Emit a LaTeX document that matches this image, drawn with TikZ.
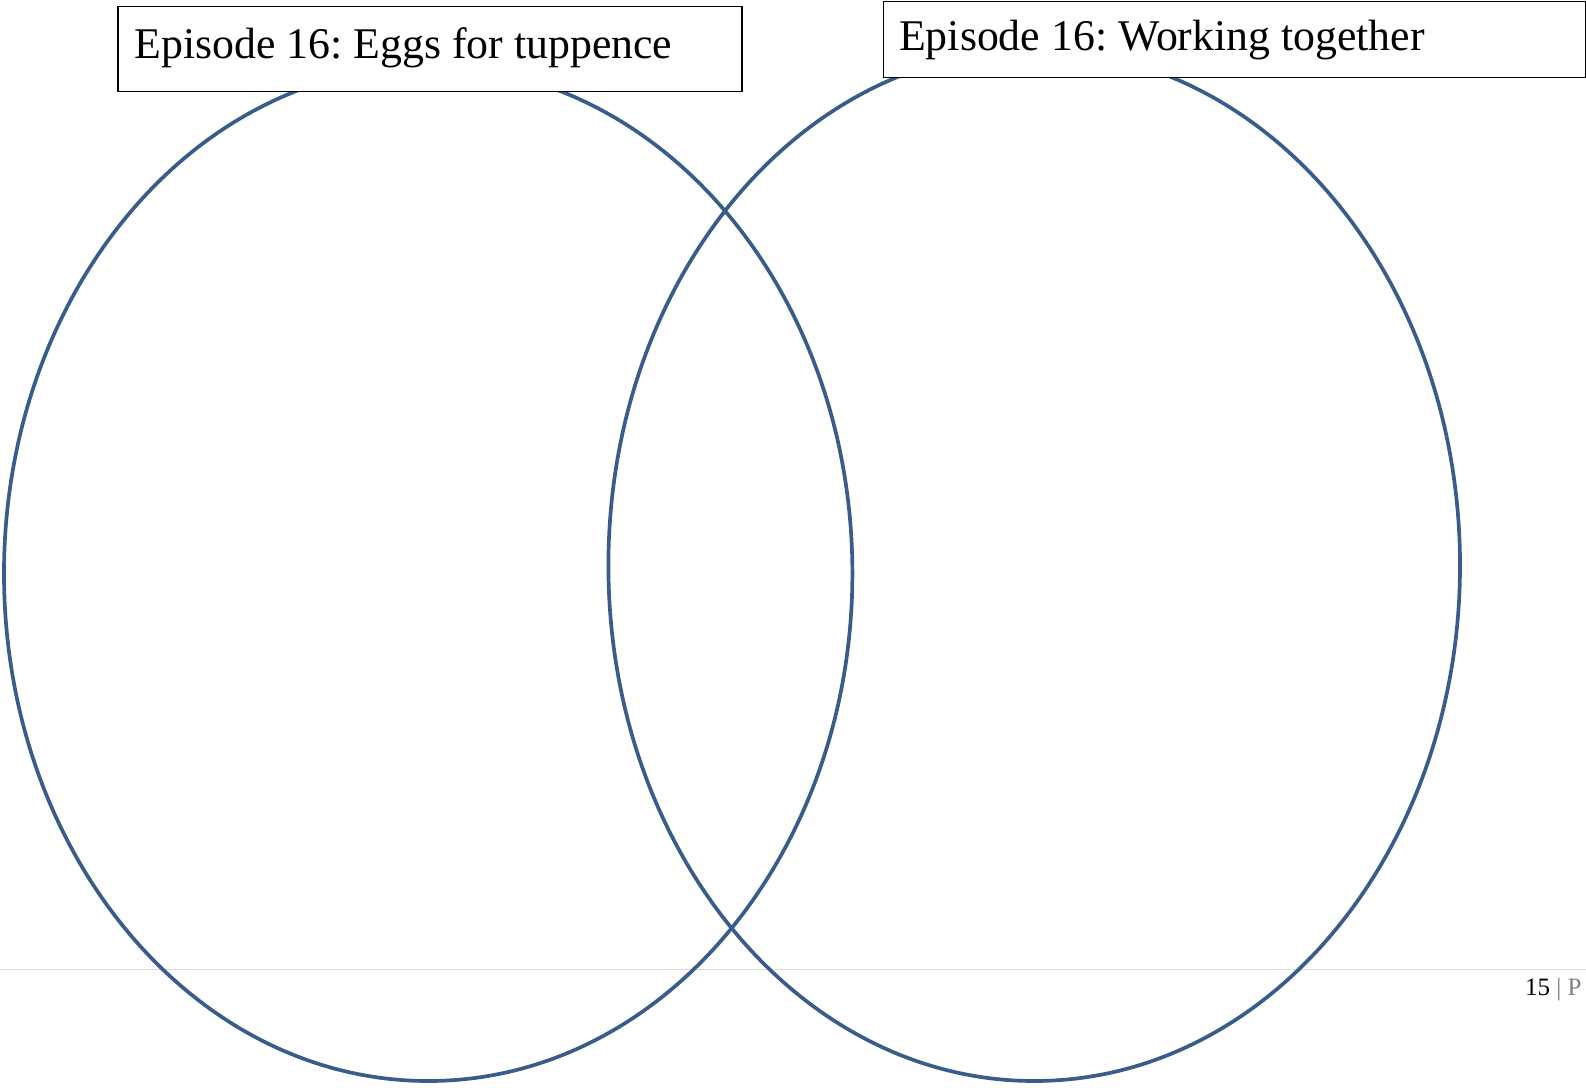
\documentclass[tikz,border=0pt]{standalone}
\usepackage{fontspec}
\setmainfont{Liberation Serif}
\frenchspacing
\definecolor{vennblue}{HTML}{385D8A}
\definecolor{footgray}{HTML}{D9D9D9}
\definecolor{pagegray}{HTML}{7F7F7F}
\begin{document}
\begin{tikzpicture}[x=1pt,y=-1pt,
  venn/.style={draw=vennblue, line width=3.7pt},
  titlebox/.style={draw=black, fill=white, line width=1.3pt, rectangle, inner sep=0pt, anchor=north west},
  titletext/.style={anchor=base west, inner sep=0pt, font=\fontsize{43.8}{52}\selectfont},
]
\useasboundingbox (0,0) rectangle (1586,1087);
% footer (behind the ellipses)
\draw[footgray, line width=1.6pt] (0,969.5) -- (1586,969.5);
\node[anchor=base west, inner sep=0pt, font=\fontsize{25}{29}\selectfont] (pagenum) at (1525,995.5) {15 {\color{pagegray}| P}};
% ellipses
\draw[venn] (428.2,573.5) ellipse [x radius=424.2pt, y radius=507.5pt];
\draw[venn] (1034.2,565.4) ellipse [x radius=425.8pt, y radius=515.6pt];
% title boxes
\node[titlebox, minimum width=624pt, minimum height=85pt] (box1) at (117.3,6.1) {};
\node[titletext] (t1) at (134.5,58.7) {Episode 16: Eggs for tuppence};
\node[titlebox, minimum width=702pt, minimum height=76pt] (box2) at (883,1) {};
\node[titletext] (t2) at (899,50.6) {Episode 16: Working together};
\end{tikzpicture}
\end{document}
